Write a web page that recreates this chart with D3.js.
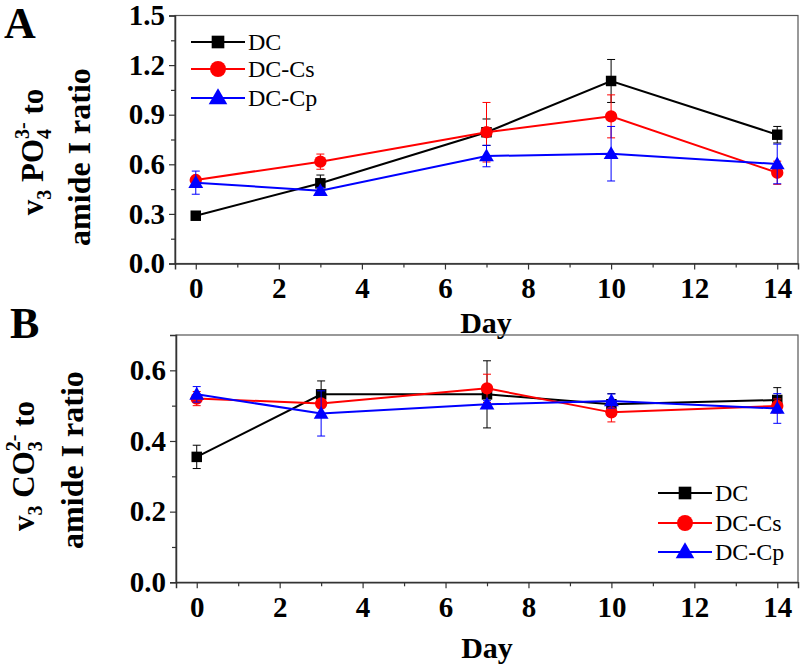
<!DOCTYPE html>
<html><head><meta charset="utf-8">
<script src="https://cdn.jsdelivr.net/npm/d3@7"></script>
<style>body{margin:0;background:#fff}svg{display:block}
svg text{font-family:"Liberation Serif","Times New Roman",Times,"Nimbus Roman",serif;}</style>
</head><body><svg id="c" width="800" height="670"></svg>
<script>
const days = [0, 3, 7, 10, 14];
const seriesNames = ["DC", "DC-Cs", "DC-Cp"];
const colors = ["#000000", "#ff0000", "#0000ff"];
const shapes = ["square", "circle", "triangle"];
// Panel A: v3 PO4 3- to amide I ratio
const dcA = [0.289, 0.485, 0.794, 1.104, 0.779];
const dcAErr = [0.015, 0.05, 0.08, 0.13, 0.05];
const csA = [0.505, 0.616, 0.794, 0.890, 0.549];
const csAErr = [0.02, 0.046, 0.18, 0.13, 0.07];
const cpA = [0.489, 0.440, 0.650, 0.664, 0.602];
const cpAErr = [0.07, 0.02, 0.065, 0.165, 0.12];
// Panel B: v3 CO3 2- to amide I ratio
const dcB = [0.355, 0.532, 0.532, 0.504, 0.516];
const dcBErr = [0.033, 0.038, 0.095, 0.03, 0.035];
const csB = [0.520, 0.506, 0.549, 0.481, 0.499];
const csBErr = [0.02, 0.01, 0.04, 0.027, 0.02];
const cpB = [0.532, 0.478, 0.504, 0.513, 0.492];
const cpBErr = [0.022, 0.064, 0.01, 0.02, 0.042];
const xTicks = [0, 2, 4, 6, 8, 10, 12, 14];
const yTicksA = [0, 0.3, 0.6, 0.9, 1.2, 1.5];
const yTicksB = [0, 0.2, 0.4, 0.6];

const svg = d3.select("#c");

function symbolPath(shape, size) {
  const t = shape === "square" ? d3.symbolSquare : shape === "circle" ? d3.symbolCircle : d3.symbolTriangle;
  return d3.symbol().type(t).size(size)();
}

function panel(cfg) {
  const g = svg.append("g");
  const x = d3.scaleLinear().domain([-0.5, 14.5]).range([cfg.left, cfg.right]);
  const y = d3.scaleLinear().domain(cfg.yDomain).range([cfg.bottom, cfg.top]);
  // frame
  g.append("rect").attr("x", cfg.left).attr("y", cfg.top)
    .attr("width", cfg.right - cfg.left).attr("height", cfg.bottom - cfg.top)
    .attr("fill", "none").attr("stroke", "#555").attr("stroke-width", 1.2);
  // minor ticks
  const xm = g.append("g").attr("transform", `translate(0,${cfg.bottom})`)
    .call(d3.axisBottom(x).tickValues(d3.range(1, 14, 2)).tickSize(4).tickFormat(""));
  xm.select(".domain").remove();
  const ym = g.append("g").attr("transform", `translate(${cfg.left},0)`)
    .call(d3.axisLeft(y).tickValues(cfg.yMinor).tickSize(4).tickFormat(""));
  ym.select(".domain").remove();
  // major axes
  const xa = g.append("g").attr("transform", `translate(0,${cfg.bottom})`)
    .call(d3.axisBottom(x).tickValues(xTicks).tickSize(6).tickPadding(8).tickFormat(d3.format("d")));
  const ya = g.append("g").attr("transform", `translate(${cfg.left},0)`)
    .call(d3.axisLeft(y).tickValues(cfg.yTicks).tickSize(6).tickPadding(4).tickFormat(d3.format(".1f")));
  [xa, ya, xm, ym].forEach(a => {
    a.attr("font-family", null);
    a.selectAll("line").attr("stroke", "#333").attr("stroke-width", 1.2);
    a.selectAll("path.domain").attr("stroke", "#333").attr("stroke-width", 1.5);
    a.selectAll("text").attr("font-weight", "bold")
      .attr("font-size", 29).attr("fill", "#000");
  });
  // axis title
  g.append("text").attr("x", cfg.dayX).attr("y", cfg.dayY).attr("text-anchor", "middle")
    .attr("font-weight", "bold").attr("font-size", 30).text("Day");
  // panel letter
  g.append("text").attr("x", cfg.letterX).attr("y", cfg.letterY)
    .attr("font-weight", "bold").attr("font-size", 44).text(cfg.letter);
  // y label
  const l1 = g.append("text").attr("transform", `translate(${cfg.l1x},${cfg.l1y}) rotate(-90)`)
    .attr("text-anchor", "middle").attr("font-weight", "bold").attr("font-size", 31);
  l1.append("tspan").text("v");
  l1.append("tspan").attr("font-size", 20).attr("dy", 8).text("3");
  l1.append("tspan").attr("dy", -8).text(" " + cfg.ion);
  l1.append("tspan").attr("font-size", 20).attr("dy", 8).text(cfg.sub);
  l1.append("tspan").attr("font-size", 20).attr("dx", -10).attr("dy", -22).text(cfg.sup);
  l1.append("tspan").attr("dy", 14).text(" to");
  g.append("text").attr("transform", `translate(${cfg.l2x},${cfg.l2y}) rotate(-90)`)
    .attr("text-anchor", "middle").attr("font-weight", "bold")
    .attr("font-size", 32).text("amide I ratio");

  // series
  cfg.series.forEach((s, i) => {
    const c = colors[i];
    const pts = days.map((d, k) => ({d, v: s.v[k], e: s.e[k]}));
    const eb = g.append("g");
    pts.forEach(p => {
      eb.append("line").attr("x1", x(p.d)).attr("x2", x(p.d)).attr("y1", y(p.v - p.e)).attr("y2", y(p.v + p.e))
        .attr("stroke", c).attr("stroke-width", 1);
      [p.v - p.e, p.v + p.e].forEach(val => eb.append("line").attr("x1", x(p.d) - 4).attr("x2", x(p.d) + 4)
        .attr("y1", y(val)).attr("y2", y(val)).attr("stroke", c).attr("stroke-width", 1));
    });
    g.append("path").datum(pts).attr("fill", "none").attr("stroke", c).attr("stroke-width", 2)
      .attr("d", d3.line().x(p => x(p.d)).y(p => y(p.v)));
    g.selectAll(null).data(pts).enter().append("path")
      .attr("transform", p => `translate(${x(p.d)},${y(p.v) + (shapes[i] === "triangle" ? 1 : 0)})`)
      .attr("d", symbolPath(shapes[i], shapes[i] === "circle" ? 120 : shapes[i] === "square" ? 110 : 95))
      .attr("fill", c);
  });
  // legend
  seriesNames.forEach((n, i) => {
    const yy = cfg.legY[i];
    g.append("line").attr("x1", cfg.legX).attr("x2", cfg.legX + 54).attr("y1", yy).attr("y2", yy)
      .attr("stroke", colors[i]).attr("stroke-width", 2);
    g.append("path").attr("transform", `translate(${cfg.legX + 27},${yy + (shapes[i] === "triangle" ? 1 : 0)})`)
      .attr("d", symbolPath(shapes[i], shapes[i] === "circle" ? 200 : shapes[i] === "square" ? 160 : 150))
      .attr("fill", colors[i]);
    g.append("text").attr("x", cfg.legX + 57).attr("y", yy).attr("dy", "0.35em")
      .attr("font-size", 24).text(n);
  });
}

panel({
  left: 175, right: 798, top: 15.5, bottom: 263.5, yDomain: [0, 1.5],
  yTicks: yTicksA, yMinor: [0.15, 0.45, 0.75, 1.05, 1.35],
  dayX: 486, dayY: 333, letter: "A", letterX: 4, letterY: 38,
  ion: "PO", sub: "4", sup: "3-", l1x: 43, l1y: 152, l2x: 90, l2y: 157,
  series: [{v: dcA, e: dcAErr}, {v: csA, e: csAErr}, {v: cpA, e: cpAErr}],
  legX: 191, legY: [42, 69, 98]
});
panel({
  left: 176, right: 798, top: 335, bottom: 582.3, yDomain: [0, 0.7],
  yTicks: yTicksB, yMinor: [0.1, 0.3, 0.5],
  dayX: 487, dayY: 658, letter: "B", letterX: 10, letterY: 338,
  ion: "CO", sub: "3", sup: "2-", l1x: 34, l1y: 466, l2x: 83, l2y: 460,
  series: [{v: dcB, e: dcBErr}, {v: csB, e: csBErr}, {v: cpB, e: cpBErr}],
  legX: 658, legY: [493, 523, 552]
});
</script></body></html>
